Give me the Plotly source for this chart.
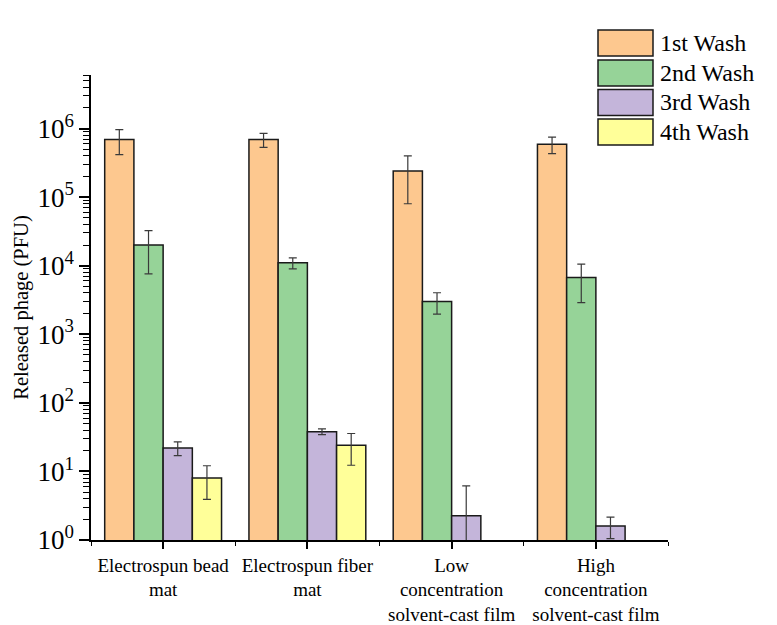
import plotly.graph_objects as go

categories = ["Electrospun bead<br>mat", "Electrospun fiber<br>mat",
              "Low<br>concentration<br>solvent-cast film",
              "High<br>concentration<br>solvent-cast film"]
series_names = ["1st Wash", "2nd Wash", "3rd Wash", "4th Wash"]
wash1 = [6.9e5, 6.9e5, 2.4e5, 5.9e5]
wash1_err = [2.75e5, 1.6e5, 1.6e5, 1.6e5]
wash2 = [2.0e4, 1.1e4, 3.0e3, 6.7e3]
wash2_err = [1.24e4, 2.0e3, 1.03e3, 3.8e3]
wash3 = [22, 38, 2.25, 1.6]
wash3_err = [5, 3.7, 3.9, 0.55]
wash4 = [8, 24, None, None]
wash4_err = [4.1, 11.7, 0, 0]
colors = ["#FDC88F", "#96D398", "#C4B5DA", "#FFFF99"]
y_tick_exps = [0, 1, 2, 3, 4, 5, 6]

values = [wash1, wash2, wash3, wash4]
errors = [wash1_err, wash2_err, wash3_err, wash4_err]
xpos = list(range(len(categories)))

FONT = "'Liberation Serif', 'Times New Roman', Times, 'DejaVu Serif', serif"
fig = go.Figure()
for name, vals, errs, col in zip(series_names, values, errors, colors):
    fig.add_trace(go.Bar(
        x=xpos, y=vals, name=name,
        marker=dict(color=col, line=dict(color="#1a1a1a", width=1.5)),
        error_y=dict(type="data", array=errs, visible=True,
                     color="#3a3a3a", thickness=1.2, width=4),
        showlegend=False,
    ))

# manual legend (large swatches like the original)
L, R, T, B = 91, 668, 75, 540
W, H = R - L, B - T
def px(x):
    return (x - L) / W
def py(y):
    return (B - y) / H
shapes = []
annotations = []
row_top = [30, 60, 89.5, 119]
for i, (name, col) in enumerate(zip(series_names, colors)):
    y0, y1 = row_top[i], row_top[i] + 26
    shapes.append(dict(type="rect", xref="paper", yref="paper",
                       x0=px(598), x1=px(653), y0=py(y1), y1=py(y0),
                       fillcolor=col, line=dict(color="#1a1a1a", width=1.5)))
    annotations.append(dict(xref="paper", yref="paper", x=px(658), y=py((y0 + y1) / 2),
                            text=name, showarrow=False, xanchor="left", yanchor="middle",
                            font=dict(family=FONT, size=24, color="black")))

minor_y = [k * 10 ** e for e in range(0, 7) for k in range(2, 10) if k * 10 ** e <= 6e6]

fig.update_layout(
    width=777, height=625,
    margin=dict(l=L, r=777 - R, t=T, b=625 - B, autoexpand=False),
    paper_bgcolor="white", plot_bgcolor="white",
    barmode="group", bargap=0.19, bargroupgap=0,
    font=dict(family=FONT, color="black"),
    shapes=shapes, annotations=annotations,
    xaxis=dict(
        range=[-0.5, 3.5], tickmode="array", tickvals=xpos, ticktext=categories,
        showline=True, linecolor="black", linewidth=1.5, zeroline=False, showgrid=False,
        ticks="outside", ticklen=7, tickwidth=1.5, tickcolor="black",
        tickfont=dict(family=FONT, size=19, color="black"),
        minor=dict(tickmode="array", tickvals=[-0.5, 0.5, 1.5, 2.5, 3.5],
                   ticks="outside", ticklen=4, tickwidth=1.2, tickcolor="black", showgrid=False),
    ),
    yaxis=dict(
        type="log", range=[0, 6.78],
        tickmode="array", tickvals=[10 ** e for e in y_tick_exps],
        ticktext=["10<sup>%d</sup>" % e for e in y_tick_exps],
        showline=True, linecolor="black", linewidth=1.5, zeroline=False, showgrid=False,
        ticks="outside", ticklen=10, tickwidth=1.5, tickcolor="black",
        tickfont=dict(family=FONT, size=27, color="black"),
        minor=dict(tickmode="array", tickvals=minor_y, ticks="outside", ticklen=6,
                   tickwidth=1.2, tickcolor="black", showgrid=False),
        title=dict(text="Released phage (PFU)", standoff=3,
                   font=dict(family=FONT, size=20.5, color="black")),
    ),
)

fig.write_html("out.html")
